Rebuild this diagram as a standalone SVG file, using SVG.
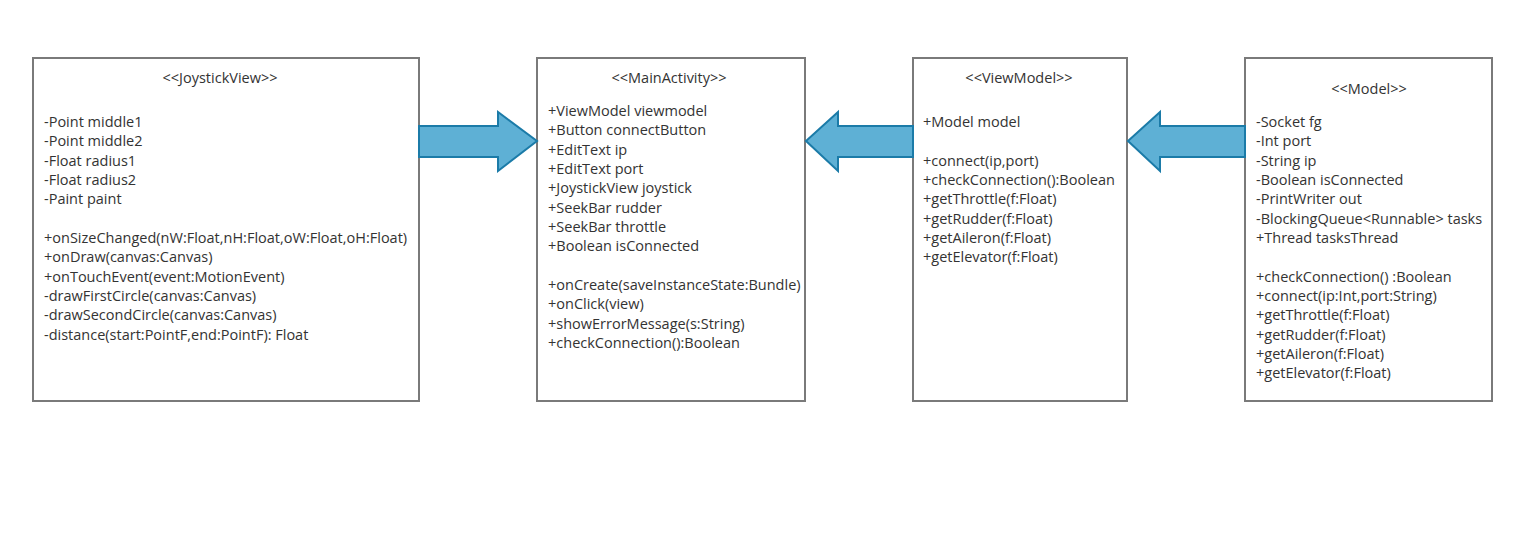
<svg xmlns="http://www.w3.org/2000/svg" width="1528" height="541" viewBox="0 0 1528 541">
  <style>
    .box { fill: #ffffff; stroke: #7a7a7a; stroke-width: 2; }
    .title { font-family: "Open Sans", "Noto Sans", sans-serif; font-size: 14.5px; fill: #333333; text-anchor: middle; }
    .txt { font-family: "Open Sans", "Noto Sans", sans-serif; font-size: 14.5px; fill: #333333; }
    .arrow { fill: #5eb0d5; stroke: #1b7ba8; stroke-width: 2; stroke-linejoin: miter; }
  </style>
  <rect width="1528" height="541" fill="#ffffff"/>

  <!-- class boxes -->
  <g id="joystickview">
    <rect class="box" x="33" y="58" width="386" height="343"/>
    <text class="title" x="220" y="83">&lt;&lt;JoystickView&gt;&gt;</text>
    <text class="txt" x="44" y="127">-Point middle1</text>
    <text class="txt" x="44" y="146">-Point middle2</text>
    <text class="txt" x="44" y="166">-Float radius1</text>
    <text class="txt" x="44" y="185">-Float radius2</text>
    <text class="txt" x="44" y="204">-Paint paint</text>
    <text class="txt" x="44" y="243">+onSizeChanged(nW:Float,nH:Float,oW:Float,oH:Float)</text>
    <text class="txt" x="44" y="262">+onDraw(canvas:Canvas)</text>
    <text class="txt" x="44" y="282">+onTouchEvent(event:MotionEvent)</text>
    <text class="txt" x="44" y="301">-drawFirstCircle(canvas:Canvas)</text>
    <text class="txt" x="44" y="320">-drawSecondCircle(canvas:Canvas)</text>
    <text class="txt" x="44" y="340">-distance(start:PointF,end:PointF): Float</text>
  </g>

  <g id="mainactivity">
    <rect class="box" x="537" y="58" width="268" height="343"/>
    <text class="title" x="669" y="83">&lt;&lt;MainActivity&gt;&gt;</text>
    <text class="txt" x="548" y="116">+ViewModel viewmodel</text>
    <text class="txt" x="548" y="135">+Button connectButton</text>
    <text class="txt" x="548" y="155">+EditText ip</text>
    <text class="txt" x="548" y="174">+EditText port</text>
    <text class="txt" x="548" y="193">+JoystickView joystick</text>
    <text class="txt" x="548" y="213">+SeekBar rudder</text>
    <text class="txt" x="548" y="232">+SeekBar throttle</text>
    <text class="txt" x="548" y="251">+Boolean isConnected</text>
    <text class="txt" x="548" y="290">+onCreate(saveInstanceState:Bundle)</text>
    <text class="txt" x="548" y="309">+onClick(view)</text>
    <text class="txt" x="548" y="329">+showErrorMessage(s:String)</text>
    <text class="txt" x="548" y="348">+checkConnection():Boolean</text>
  </g>

  <g id="viewmodel">
    <rect class="box" x="913" y="58" width="214" height="343"/>
    <text class="title" x="1019" y="83">&lt;&lt;ViewModel&gt;&gt;</text>
    <text class="txt" x="923" y="127">+Model model</text>
    <text class="txt" x="923" y="166">+connect(ip,port)</text>
    <text class="txt" x="923" y="185">+checkConnection():Boolean</text>
    <text class="txt" x="923" y="204">+getThrottle(f:Float)</text>
    <text class="txt" x="923" y="224">+getRudder(f:Float)</text>
    <text class="txt" x="923" y="243">+getAileron(f:Float)</text>
    <text class="txt" x="923" y="262">+getElevator(f:Float)</text>
  </g>

  <g id="model">
    <rect class="box" x="1245" y="58" width="247" height="343"/>
    <text class="title" x="1369" y="94">&lt;&lt;Model&gt;&gt;</text>
    <text class="txt" x="1256" y="127">-Socket fg</text>
    <text class="txt" x="1256" y="146">-Int port</text>
    <text class="txt" x="1256" y="166">-String ip</text>
    <text class="txt" x="1256" y="185">-Boolean isConnected</text>
    <text class="txt" x="1256" y="204">-PrintWriter out</text>
    <text class="txt" x="1256" y="224">-BlockingQueue&lt;Runnable&gt; tasks</text>
    <text class="txt" x="1256" y="243">+Thread tasksThread</text>
    <text class="txt" x="1256" y="282">+checkConnection() :Boolean</text>
    <text class="txt" x="1256" y="301">+connect(ip:Int,port:String)</text>
    <text class="txt" x="1256" y="320">+getThrottle(f:Float)</text>
    <text class="txt" x="1256" y="340">+getRudder(f:Float)</text>
    <text class="txt" x="1256" y="359">+getAileron(f:Float)</text>
    <text class="txt" x="1256" y="378">+getElevator(f:Float)</text>
  </g>

  <!-- block arrows between classes -->
  <g id="connectors">
    <polygon class="arrow" points="419,126 498,126 498,112 537,141 498,171 498,157 419,157"/>
    <polygon class="arrow" points="913,126 838,126 838,112 806,141 838,171 838,157 913,157"/>
    <polygon class="arrow" points="1245,126 1160,126 1160,112 1128,141 1160,171 1160,157 1245,157"/>
  </g>
</svg>
